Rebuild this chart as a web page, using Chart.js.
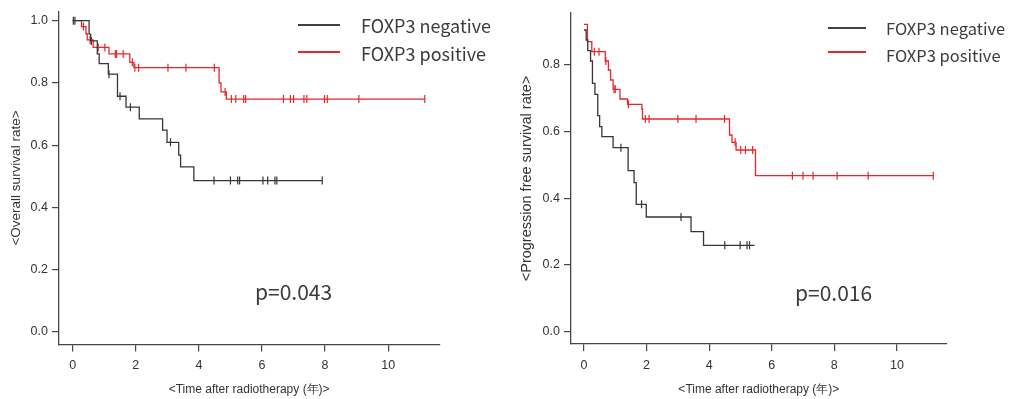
<!DOCTYPE html>
<html>
<head>
    <title>FOXP3 survival curves</title>
    <script src="https://cdn.jsdelivr.net/npm/chart.js"></script>
    <style>
        body { margin: 0; background: #fff; }
        #wrap { position: relative; width: 1010px; height: 399px; overflow: hidden; }
        canvas { position: absolute; top: 0; }
        .txt { position: absolute; font-family: "Noto Sans CJK JP", "Noto Sans", sans-serif; color: #3c3c3c; white-space: nowrap; }
        .key { position: absolute; height: 2px; }
    </style>
</head>
<body>
<div id="wrap">
    <canvas id="os-chart" width="505" height="399" style="left:0"></canvas>
    <canvas id="pfs-chart" width="505" height="399" style="left:505px"></canvas>

    <!-- legends + p values -->
    <div class="key" style="left:298px;top:24px;width:42px;background:#404040"></div>
    <div class="key" style="left:298px;top:51px;width:42px;background:#e8262a"></div>
    <div class="txt" style="left:361px;top:13px;height:24px;line-height:24px;font-size:18px">FOXP3 negative</div>
    <div class="txt" style="left:361px;top:41px;height:24px;line-height:24px;font-size:18px">FOXP3 positive</div>
    <div class="txt" style="left:255px;top:277px;height:28px;line-height:28px;font-size:21px">p=0.043</div>

    <div class="key" style="left:828px;top:27px;width:38px;background:#404040"></div>
    <div class="key" style="left:828px;top:51px;width:38px;background:#e8262a"></div>
    <div class="txt" style="left:886px;top:16px;height:24px;line-height:24px;font-size:16.5px">FOXP3 negative</div>
    <div class="txt" style="left:886px;top:43px;height:24px;line-height:24px;font-size:16.5px">FOXP3 positive</div>
    <div class="txt" style="left:795px;top:278px;height:28px;line-height:28px;font-size:21px">p=0.016</div>
</div>

<script>
// ---- overall survival (left) ----
const osNegTime = [0, 0.52, 0.57, 0.78, 0.84, 1.13, 1.42, 1.69, 2.11, 2.85, 2.99, 3.36, 3.42, 3.84, 7.91];
const osNegSurv = [1.0, 0.957, 0.935, 0.893, 0.862, 0.828, 0.757, 0.722, 0.684, 0.648, 0.609, 0.568, 0.530, 0.486, 0.486];
const osNegCensor = [0.02, 0.07, 0.59, 1.15, 1.50, 1.83, 3.10, 4.48, 5.00, 5.23, 5.29, 6.03, 6.18, 6.41, 6.47, 7.91];

const osPosTime = [0, 0.28, 0.42, 0.46, 0.65, 1.15, 1.81, 1.94, 4.64, 4.70, 4.87, 11.16];
const osPosSurv = [1.0, 0.981, 0.958, 0.938, 0.914, 0.893, 0.866, 0.849, 0.800, 0.771, 0.748, 0.748];
const osPosCensor = [0.34, 0.55, 0.81, 1.02, 1.35, 1.39, 1.60, 1.89, 1.97, 2.09, 3.02, 3.59, 4.49, 4.83,
                     5.03, 5.17, 5.42, 5.48, 6.68, 6.90, 7.00, 7.33, 7.42, 7.98, 8.07, 9.07, 11.16];

// ---- progression free survival (right) ----
const pfsNegTime = [0, 0.07, 0.12, 0.21, 0.27, 0.35, 0.44, 0.50, 0.57, 0.93, 1.41, 1.60, 1.67, 1.99, 3.42, 3.82, 5.45];
const pfsNegSurv = [0.905, 0.875, 0.843, 0.812, 0.745, 0.712, 0.648, 0.615, 0.585, 0.552, 0.483, 0.447, 0.382, 0.344, 0.300, 0.259, 0.259];
const pfsNegCensor = [1.18, 1.84, 3.10, 4.50, 4.99, 5.21, 5.29];

const pfsPosTime = [0, 0.11, 0.25, 0.68, 0.78, 0.85, 0.93, 1.15, 1.39, 1.85, 1.87, 4.65, 4.73, 4.86, 5.48, 11.16];
const pfsPosSurv = [0.922, 0.870, 0.840, 0.812, 0.785, 0.755, 0.727, 0.698, 0.682, 0.668, 0.638, 0.590, 0.568, 0.545, 0.468, 0.468];
const pfsPosCensor = [0.33, 0.48, 0.70, 0.96, 1.00, 1.42, 1.96, 2.08, 3.00, 3.58, 4.49, 4.83, 5.01, 5.16, 5.39,
                      6.66, 7.00, 7.32, 8.09, 9.08, 11.16];

// ---- axes ----
const xTickValues = [0, 2, 4, 6, 8, 10];
const osYTickValues = [0, 0.2, 0.4, 0.6, 0.8, 1.0];
const pfsYTickValues = [0, 0.2, 0.4, 0.6, 0.8];
const seriesLabels = ['FOXP3 negative', 'FOXP3 positive'];

const BLACK = '#363636';
const RED = '#e8262a';
const AXIS = '#474747';

// survival value of a step curve at time t (for placing censor marks on it)
function survAt(times, surv, t) {
    let s = surv[0];
    for (let i = 0; i < times.length; i++) {
        if (times[i] <= t + 1e-9) s = surv[i];
    }
    return s;
}

function curve(label, times, surv, color) {
    return {
        label: label,
        data: times.map((t, i) => ({x: t, y: surv[i]})),
        borderColor: color,
        borderWidth: 1.3,
        stepped: 'before',
        pointRadius: 0,
        fill: false,
    };
}

function censors(label, times, surv, marks, color) {
    return {
        label: label + ' censored',
        data: marks.map(t => ({x: t, y: survAt(times, surv, t)})),
        showLine: false,
        borderColor: color,
        borderWidth: 1.2,
        pointStyle: 'line',
        rotation: 90,
        pointRadius: 4,
        pointHoverRadius: 4,
    };
}

function makeChart(id, o) {
    const ctx = document.getElementById(id).getContext('2d');
    return new Chart(ctx, {
        type: 'line',
        data: {
            datasets: [
                curve(seriesLabels[0], o.negTime, o.negSurv, BLACK),
                curve(seriesLabels[1], o.posTime, o.posSurv, RED),
                censors(seriesLabels[0], o.negTime, o.negSurv, o.negCensor, BLACK),
                censors(seriesLabels[1], o.posTime, o.posSurv, o.posCensor, RED),
            ],
        },
        options: {
            responsive: false,
            animation: false,
            events: [],
            layout: { padding: { top: o.top, right: o.right, left: 0, bottom: 0 } },
            plugins: { legend: { display: false }, tooltip: { enabled: false } },
            scales: {
                x: {
                    type: 'linear',
                    min: o.xMin,
                    max: o.xMax,
                    afterBuildTicks: scale => { scale.ticks = xTickValues.map(v => ({value: v})); },
                    afterFit: scale => { scale.height = o.xHeight; },
                    grid: { display: true, drawOnChartArea: false, drawTicks: true, tickLength: 7, color: AXIS, lineWidth: 1.2 },
                    border: { display: true, color: AXIS, width: 1.3 },
                    ticks: {
                        color: '#333',
                        font: { family: '"Liberation Sans", Arial, sans-serif', size: 12.5 },
                        padding: 7,
                        maxRotation: 0,
                        callback: v => String(v),
                    },
                    title: {
                        display: true,
                        text: '<Time after radiotherapy (年)>',
                        color: '#333',
                        font: { family: '"Liberation Sans", Arial, sans-serif', size: 12, lineHeight: 1.2 },
                        padding: { top: 0, bottom: 1.8 },
                    },
                },
                y: {
                    type: 'linear',
                    min: o.yMin,
                    max: o.yMax,
                    afterBuildTicks: scale => { scale.ticks = o.yTicks.map(v => ({value: v})); },
                    afterFit: scale => { scale.width = o.yWidth; },
                    grid: { display: true, drawOnChartArea: false, drawTicks: true, tickLength: 7, color: AXIS, lineWidth: 1.2 },
                    border: { display: true, color: AXIS, width: 1.3 },
                    ticks: {
                        color: '#333',
                        font: { family: '"Liberation Sans", Arial, sans-serif', size: 12.5 },
                        padding: 4,
                        callback: v => v.toFixed(1),
                    },
                    title: {
                        display: true,
                        text: o.yTitle,
                        color: '#333',
                        font: { family: '"Liberation Sans", Arial, sans-serif', size: o.yTitleSize, lineHeight: 1.2 },
                        padding: { top: o.yTitlePad, bottom: 0 },
                    },
                },
            },
        },
    });
}

makeChart('os-chart', {
    negTime: osNegTime, negSurv: osNegSurv, negCensor: osNegCensor,
    posTime: osPosTime, posSurv: osPosSurv, posCensor: osPosCensor,
    yTicks: osYTickValues,
    yTitle: '<Overall survival rate>',
    yTitleSize: 13.5, yTitlePad: 8,
    xMin: -0.434, xMax: 11.62, yMin: -0.041, yMax: 1.0295,
    top: 11, right: 65.7, yWidth: 59, xHeight: 54.5,
});

makeChart('pfs-chart', {
    negTime: pfsNegTime, negSurv: pfsNegSurv, negCensor: pfsNegCensor,
    posTime: pfsPosTime, posSurv: pfsPosSurv, posCensor: pfsPosCensor,
    yTicks: pfsYTickValues,
    yTitle: '<Progression free survival rate>',
    yTitleSize: 14.5, yTitlePad: 13,
    xMin: -0.415, xMax: 11.59, yMin: -0.037, yMax: 0.956,
    top: 13, right: 63.3, yWidth: 66, xHeight: 55,
});
</script>
</body>
</html>
